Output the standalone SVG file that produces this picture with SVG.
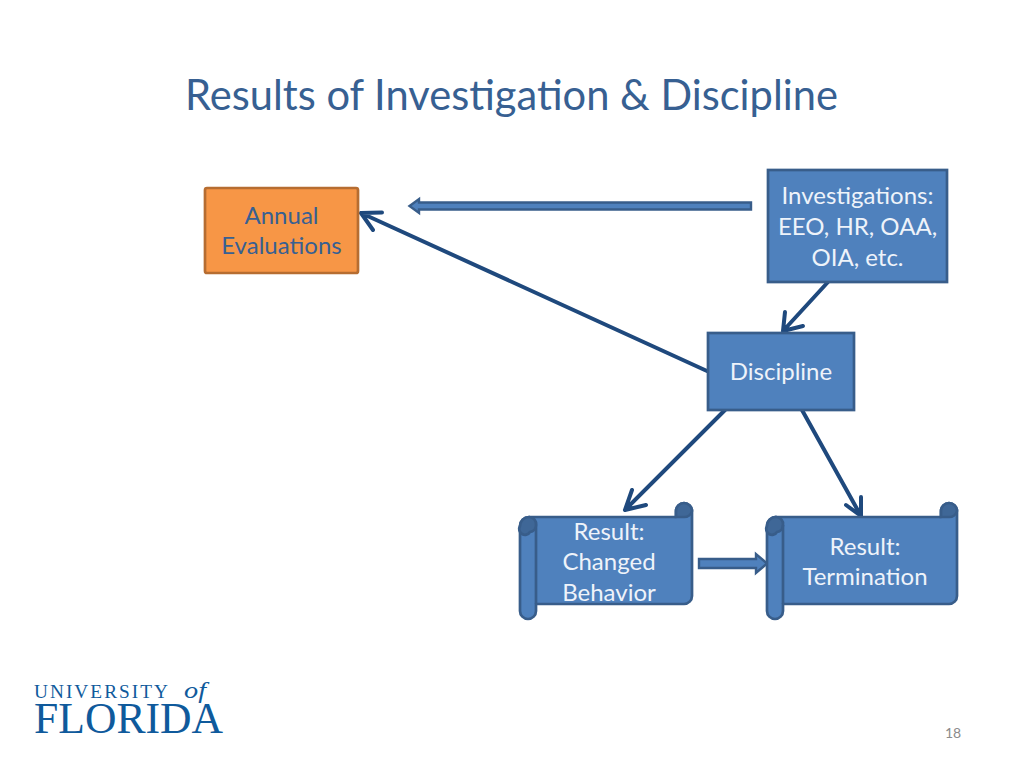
<svg xmlns="http://www.w3.org/2000/svg" width="1024" height="768" viewBox="0 0 1024 768">
<defs>
<style>
text{font-family:Lato,"Liberation Sans",sans-serif}
.t{font-size:24px;fill:#eef3fa;text-anchor:middle}
.box{fill:#4f81bd;stroke:#385d8a;stroke-width:2.7}
.scroll{fill:#4f81bd;stroke:#385d8a;stroke-width:2.7;stroke-linejoin:round}
.dark{fill:#3f6797;stroke:#385d8a;stroke-width:2.7}
.ln{fill:none;stroke:#1f497d;stroke-width:4;stroke-linecap:round;stroke-linejoin:round}
.block{fill:#4f81bd;stroke:#385d8a;stroke-width:2.4}
.logo{font-family:"Liberation Serif",serif;fill:#0f5a9c}
</style>
</defs>
<rect width="1024" height="768" fill="#fff"/>
<text x="185" y="110" font-size="42" fill="#376092" textLength="653" lengthAdjust="spacingAndGlyphs">Results of Investigation &amp; Discipline</text>
<g id="connectors">
<path class="block" d="M751 202.500H419V199L409.500 206L419 213V209.500H751Z"/>
<path class="block" d="M699 559H756V554L767 563.500L756 573V568H699Z"/>
<path class="ln" d="M707 371L361 213M382 212.500L361 213L373 230"/>
<path class="ln" d="M828 282L783 331M785 312L783 331L803 326"/>
<path class="ln" d="M725 410L625 510M632 490L625 510L646 505"/>
<path class="ln" d="M802 410L861 516M846 505L861 516L861 497"/>
</g>
<g id="annual-evaluations">
<rect x="205" y="188" width="153" height="85" rx="2" fill="#f79646" stroke="#b66d31" stroke-width="2.700"/>
<text class="t" x="281.500" y="224" fill="#376092" style="fill:#376092">Annual</text>
<text class="t" x="281.500" y="254" style="fill:#376092">Evaluations</text>
</g>
<g id="investigations">
<rect class="box" x="768" y="170" width="179" height="112"/>
<text class="t" x="857.500" y="204">Investigations:</text>
<text class="t" x="857.500" y="235">EEO, HR, OAA,</text>
<text class="t" x="857.500" y="266">OIA, etc.</text>
</g>
<g id="discipline">
<rect class="box" x="708" y="333" width="146" height="77"/>
<text class="t" x="781" y="380">Discipline</text>
</g>
<g id="result-changed">
<path class="scroll" d="M529 517H676V511A8 8 0 0 1 692 511V596A8 8 0 0 1 684 604H536V611A8 8 0 0 1 520 611V526A9 9 0 0 1 529 517Z"/>
<path class="dark" d="M676 517V511A8 8 0 0 1 692 511A8 8 0 0 1 684 517Z"/>
<path class="dark" style="fill:#4f81bd" d="M529 517A8 8 0 0 1 536 525V604"/>
<path class="dark" d="M520 526A5 5 0 0 0 530 532A7 7 0 0 0 536 525A7 7 0 0 0 529 517A9 9 0 0 0 520 526Z"/>
<text class="t" x="609" y="540">Result:</text>
<text class="t" x="609" y="570">Changed</text>
<text class="t" x="609" y="601">Behavior</text>
</g>
<g id="result-termination">
<path class="scroll" d="M777 517H941V511A8 8 0 0 1 957 511V596A8 8 0 0 1 949 604H783V611A8 8 0 0 1 767 611V526A9 9 0 0 1 777 517Z"/>
<path class="dark" d="M941 517V511A8 8 0 0 1 957 511A8 8 0 0 1 949 517Z"/>
<path class="dark" d="M767 526A5 5 0 0 0 777 532A7 7 0 0 0 783 525A7 7 0 0 0 776 517A9 9 0 0 0 767 526Z"/>
<path class="dark" style="fill:none" d="M783 525V604"/>
<text class="t" x="865" y="555">Result:</text>
<text class="t" x="865" y="585">Termination</text>
</g>
<g id="logo">
<text class="logo" x="34" y="698" font-size="19" textLength="136" lengthAdjust="spacingAndGlyphs" style="letter-spacing:2px">UNIVERSITY</text>
<text class="logo" x="184" y="698" font-size="24" font-style="italic" textLength="22" lengthAdjust="spacingAndGlyphs">of</text>
<text class="logo" x="34" y="733" font-size="45" textLength="189" lengthAdjust="spacingAndGlyphs">FLORIDA</text>
</g>
<text x="945" y="738" font-size="14" fill="#8b8b8b">18</text>
</svg>
